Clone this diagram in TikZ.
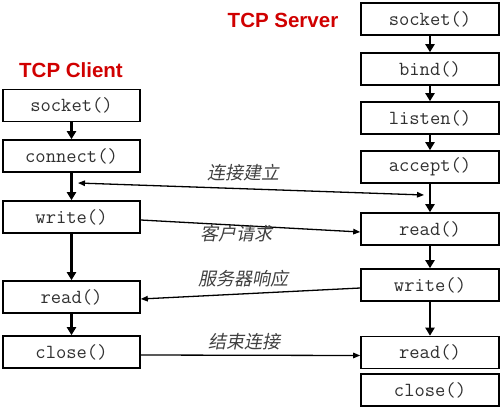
\documentclass[tikz,border=0pt]{standalone}
\usepackage{fontspec}
\usepackage{tikz}
\usetikzlibrary{arrows.meta, calc, positioning}
\newfontfamily\titlefont{Liberation Sans}
\newfontfamily\cjk[FakeSlant=0.2]{Noto Sans CJK SC}
\definecolor{tcpred}{HTML}{D00000}
\definecolor{fntext}{HTML}{303030}
\definecolor{msgtext}{HTML}{404040}
\tikzset{
  fnbox/.style   = {draw=black, line width=1.6pt, fill=white, minimum height=32pt,
                    inner sep=0pt, text=fntext, font=\fontsize{20}{22}\selectfont\ttfamily},
  cbox/.style    = {fnbox, minimum width=137pt},
  sbox/.style    = {fnbox, minimum width=138pt},
  flow/.style    = {-{Triangle[length=8pt, width=9pt]}, line width=2.6pt},
  msg/.style     = {-{Triangle[length=7pt, width=5.5pt]}, line width=1.3pt},
  msglab/.style  = {font=\fontsize{18}{20}\selectfont\cjk, text=msgtext, inner sep=0pt},
  sidetitle/.style = {font=\fontsize{20.5}{24}\selectfont\titlefont\bfseries, text=tcpred, inner sep=0pt},
}

\begin{document}
\begin{tikzpicture}[x=1pt, y=-1pt]
  \useasboundingbox (0,0) rectangle (500,410);
  % titles
  \node[sidetitle] (ctitle) at (71,70) {TCP Client};
  \node[sidetitle] (stitle) at (283,20) {TCP Server};
  % client side
  \node[cbox] (csocket)  at (71.5,105.5) {socket()};
  \node[cbox] (cconnect) at (71.5,156)   {connect()};
  \node[cbox] (cwrite)   at (71.5,217)   {write()};
  \node[cbox] (cread)    at (71.5,297)   {read()};
  \node[cbox] (cclose)   at (71.5,352)   {close()};
  % server side
  \node[sbox] (ssocket)  at (430,19)    {socket()};
  \node[sbox] (sbind)    at (430,69)    {bind()};
  \node[sbox] (slisten)  at (430,118)   {listen()};
  \node[sbox] (saccept)  at (430,167)   {accept()};
  \node[sbox] (sread)    at (430,229)   {read()};
  \node[sbox] (swrite)   at (430,285)   {write()};
  \node[sbox] (sread2)   at (430,352.5) {read()};
  \node[sbox] (sclose)   at (430,390)   {close()};
  % call order
  \draw[flow] (csocket) -- (cconnect);
  \draw[flow] (cconnect) -- (cwrite);
  \draw[flow] (cwrite) -- (cread);
  \draw[flow] (cread) -- (cclose);
  \draw[flow] (ssocket) -- (sbind);
  \draw[flow] (sbind) -- (slisten);
  \draw[flow] (slisten) -- (saccept);
  \draw[flow] (saccept) -- (sread);
  \draw[flow] (sread) -- (swrite);
  \draw[flow] (swrite) -- (sread2);
  % messages
  \coordinate (cjoin) at (78,183);
  \coordinate (sjoin) at (424,195);
  \draw[msg, {Triangle[length=7pt, width=5.5pt]}-{Triangle[length=7pt, width=5.5pt]}] (cjoin) -- (sjoin);
  \draw[msg] ([yshift=-3pt]cwrite.east) -- ([yshift=-3pt]sread.west);
  \draw[msg] ([yshift=-3pt]swrite.west) -- ([yshift=-2pt]cread.east);
  \draw[msg] ([yshift=-3pt]cclose.east) -- ([yshift=-3pt]sread2.west);
  \node[msglab] (lconn)  at (243,173) {连接建立};
  \node[msglab] (lreq)   at (236,234) {客户请求};
  \node[msglab] (lresp)  at (243,279) {服务器响应};
  \node[msglab] (lclose) at (244,342) {结束连接};
\end{tikzpicture}
\end{document}
